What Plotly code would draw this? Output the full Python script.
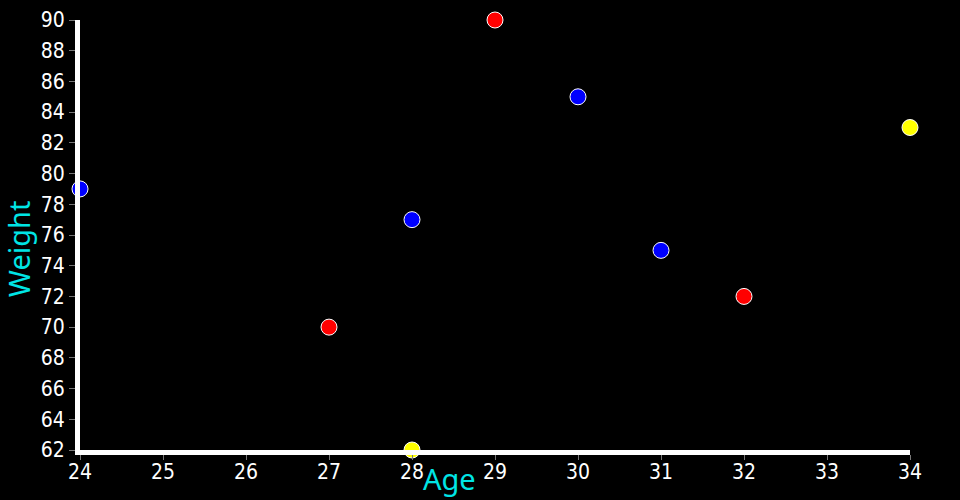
import plotly.graph_objects as go

ages = [24, 27, 28, 28, 29, 30, 31, 32, 34]
weights = [79, 70, 77, 62, 90, 85, 75, 72, 83]
groups = ["blue", "red", "blue", "yellow", "red", "blue", "blue", "red", "yellow"]
x_ticks = [24, 25, 26, 27, 28, 29, 30, 31, 32, 33, 34]
y_ticks = [62, 64, 66, 68, 70, 72, 74, 76, 78, 80, 82, 84, 86, 88, 90]

color_map = {"red": "#ff0000", "blue": "#0000ff", "yellow": "#ffff00"}

fig = go.Figure()
fig.add_trace(go.Scatter(
    x=ages, y=weights, mode="markers",
    marker=dict(size=16, color=[color_map[g] for g in groups],
                line=dict(color="white", width=1)),
    cliponaxis=False, showlegend=False, hoverinfo="x+y",
))

tick_font = dict(family="DejaVu Sans Condensed, DejaVu Sans", size=21, color="white")
fig.update_layout(
    width=960, height=500,
    paper_bgcolor="black", plot_bgcolor="black",
    margin=dict(l=80, r=50, t=20, b=50),
    xaxis=dict(range=[24, 34], tickvals=x_ticks, showgrid=False, zeroline=False,
               showline=True, linecolor="white", linewidth=5, automargin=False,
               ticks="outside", ticklen=5, tickwidth=1, tickcolor="#777",
               tickfont=tick_font, ticklabelstandoff=-6, ticklabeloverflow="allow"),
    yaxis=dict(range=[62, 90], tickvals=y_ticks, showgrid=False, zeroline=False,
               showline=True, linecolor="white", linewidth=5, automargin=False,
               ticks="outside", ticklen=6, tickwidth=1, tickcolor="#777",
               tickfont=tick_font, ticklabeloverflow="allow"),
    annotations=[
        dict(text="Age", x=449, y=478, xref="paper", yref="paper", showarrow=False,
             font=dict(family="Noto Sans", size=29, color="#00e5e5")),
        dict(text="Weight", x=18, y=249, xref="paper", yref="paper", showarrow=False,
             textangle=-90, font=dict(family="Noto Sans", size=29, color="#00e5e5")),
    ],
)
# convert pixel positions to paper coords
plot_l, plot_r, plot_t, plot_b = 80, 910, 20, 450
for ann in fig.layout.annotations:
    px, py = ann.x, ann.y
    ann.x = (px - plot_l) / (plot_r - plot_l)
    ann.y = (plot_b - py) / (plot_b - plot_t)
    ann.xanchor = "center"
    ann.yanchor = "middle"

fig.write_html("out.html", config={"displayModeBar": False},
               post_script="document.body.style.margin='0';document.body.style.background='black';")
